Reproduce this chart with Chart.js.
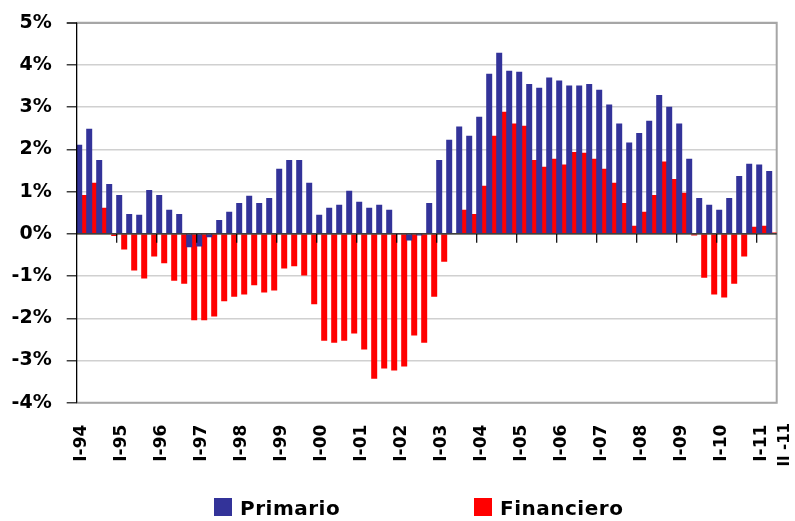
<!DOCTYPE html>
<html><head><meta charset="utf-8">
<script src="https://cdn.jsdelivr.net/npm/chart.js@4.4.1/dist/chart.umd.min.js"></script>
<style>html,body{margin:0;padding:0;background:#fff;}#wrap{width:795px;height:521px;position:relative;}</style>
</head><body><div id="wrap"><canvas id="c" width="795" height="521"></canvas></div>
<script>
const quarters = [
 'I-94','II-94','III-94','IV-94','I-95','II-95','III-95','IV-95','I-96','II-96','III-96','IV-96',
 'I-97','II-97','III-97','IV-97','I-98','II-98','III-98','IV-98','I-99','II-99','III-99','IV-99',
 'I-00','II-00','III-00','IV-00','I-01','II-01','III-01','IV-01','I-02','II-02','III-02','IV-02',
 'I-03','II-03','III-03','IV-03','I-04','II-04','III-04','IV-04','I-05','II-05','III-05','IV-05',
 'I-06','II-06','III-06','IV-06','I-07','II-07','III-07','IV-07','I-08','II-08','III-08','IV-08',
 'I-09','II-09','III-09','IV-09','I-10','II-10','III-10','IV-10','I-11','II-11'];
const primario = [
 2.11,2.49,1.75,1.18,0.92,0.47,0.45,1.04,0.92,0.57,0.47,-0.32,
 -0.30,-0.08,0.33,0.52,0.73,0.90,0.73,0.85,1.54,1.75,1.75,1.21,
 0.45,0.62,0.69,1.02,0.76,0.62,0.69,0.57,0.00,-0.16,-0.04,0.73,
 1.75,2.23,2.54,2.32,2.77,3.79,4.29,3.86,3.84,3.55,3.46,3.70,
 3.63,3.51,3.51,3.55,3.41,3.06,2.61,2.16,2.39,2.68,3.29,3.01,
 2.61,1.78,0.85,0.69,0.57,0.85,1.37,1.66,1.64,1.49];
const financiero = [
 0.92,1.21,0.62,-0.05,-0.37,-0.87,-1.06,-0.54,-0.70,-1.11,-1.18,-2.05,
 -2.05,-1.96,-1.60,-1.49,-1.44,-1.22,-1.39,-1.34,-0.82,-0.77,-0.99,-1.67,
 -2.53,-2.58,-2.53,-2.36,-2.74,-3.43,-3.19,-3.24,-3.14,-2.41,-2.58,-1.49,
 -0.66,0.00,0.57,0.47,1.14,2.32,2.89,2.61,2.56,1.75,1.59,1.78,
 1.64,1.94,1.92,1.78,1.54,1.21,0.73,0.19,0.52,0.92,1.71,1.30,
 0.97,-0.04,-1.04,-1.44,-1.51,-1.18,-0.54,0.17,0.19,0.03];
const yTicks = [-4,-3,-2,-1,0,1,2,3,4,5];
const labelEvery = 4;
const lastLabel = 'II -11';
const seriesNames = ['Primario','Financiero'];
const seriesColors = ['#333399','#ff0000'];

const FONT = '"DejaVu Sans", Verdana, sans-serif';

const decor = {
  id: 'decor',
  beforeDatasetsDraw(chart) {
    const {ctx, chartArea: a} = chart;
    ctx.save();
    ctx.strokeStyle = '#a6a6a6';
    ctx.lineWidth = 2;
    ctx.beginPath();
    ctx.moveTo(a.left, a.top);
    ctx.lineTo(a.right, a.top);
    ctx.lineTo(a.right, a.bottom);
    ctx.lineTo(a.left, a.bottom);
    ctx.stroke();
    ctx.restore();
  },
  afterDatasetsDraw(chart) {
    const {ctx, chartArea: a, scales: {x, y}} = chart;
    const y0 = y.getPixelForValue(0);
    ctx.save();
    ctx.strokeStyle = '#000';
    ctx.lineWidth = 1.2;
    ctx.beginPath();
    ctx.moveTo(a.left, y0); ctx.lineTo(a.right, y0);
    for (let i = labelEvery; i < quarters.length; i += labelEvery) {
      const px = (x.getPixelForValue(i - 1) + x.getPixelForValue(i)) / 2;
      ctx.moveTo(px, y0); ctx.lineTo(px, y0 + 9);
    }
    ctx.stroke();
    ctx.beginPath();
    ctx.moveTo(a.left, a.top); ctx.lineTo(a.left, a.bottom);
    ctx.stroke();
    ctx.restore();
  },
  afterDraw(chart) {
    const {ctx, chartArea: a} = chart;
    ctx.save();
    ctx.fillStyle = '#000';
    ctx.font = 'bold 15px ' + FONT;
    ctx.translate(a.right + 8.5, 423);
    ctx.rotate(-Math.PI / 2);
    ctx.textAlign = 'right';
    ctx.textBaseline = 'middle';
    ctx.fillText(lastLabel, 0, 0);
    ctx.restore();
    ctx.save();
    ctx.font = 'bold 20px ' + FONT;
    try { ctx.letterSpacing = '0.5px'; } catch (e) {}
    ctx.textBaseline = 'alphabetic';
    ctx.textAlign = 'left';
    const boxX = [214, 474];
    chart.data.datasets.forEach((d, i) => {
      ctx.fillStyle = d.backgroundColor;
      ctx.fillRect(boxX[i], 498, 18, 18);
      ctx.fillStyle = '#000';
      ctx.fillText(d.label, boxX[i] + 26, 515);
    });
    ctx.restore();
  }
};

new Chart(document.getElementById('c'), {
  type: 'bar',
  data: {
    labels: quarters,
    datasets: [
      {label: seriesNames[0], data: primario, backgroundColor: seriesColors[0], borderWidth: 0},
      {label: seriesNames[1], data: financiero, backgroundColor: seriesColors[1], borderWidth: 0}
    ]
  },
  options: {
    responsive: false,
    animation: false,
    devicePixelRatio: 1,
    events: [],
    layout: {padding: {top: 22.7, right: 18.3, left: 0, bottom: 0}},
    datasets: {bar: {categoryPercentage: 1.0, barPercentage: 1.2}},
    plugins: {legend: {display: false}, tooltip: {enabled: false}},
    scales: {
      x: {
        grid: {display: false, drawTicks: false},
        border: {display: false},
        ticks: {
          autoSkip: false, maxRotation: 90, minRotation: 90, padding: 22,
          color: '#000', font: {family: FONT, weight: 'bold', size: 17},
          callback: (v, i) => (i % labelEvery === 0 ? quarters[i] : '')
        },
        afterFit: s => { s.height = 118.3; s.paddingLeft = 0; s.paddingRight = 0; }
      },
      y: {
        min: yTicks[0], max: yTicks[yTicks.length - 1],
        afterBuildTicks: s => { s.ticks = yTicks.map(v => ({value: v})); },
        grid: {
          color: c => (c.tick && c.tick.value === 0) ? 'rgba(0,0,0,0)' : (c.tick && c.tick.value === 5 ? '#a6a6a6' : '#d0d0d0'),
          lineWidth: c => (c.tick && c.tick.value === 5) ? 2 : 1.5,
          tickColor: '#404040', tickLength: 10
        },
        border: {display: true, color: '#000', width: 1},
        ticks: {
          padding: 15, color: '#000', font: {family: FONT, weight: 'bold', size: 19},
          callback: v => v + '%'
        },
        afterFit: s => { s.width = 76.7; s.paddingTop = 0; s.paddingBottom = 0; }
      }
    }
  },
  plugins: [decor]
});
</script></body></html>
